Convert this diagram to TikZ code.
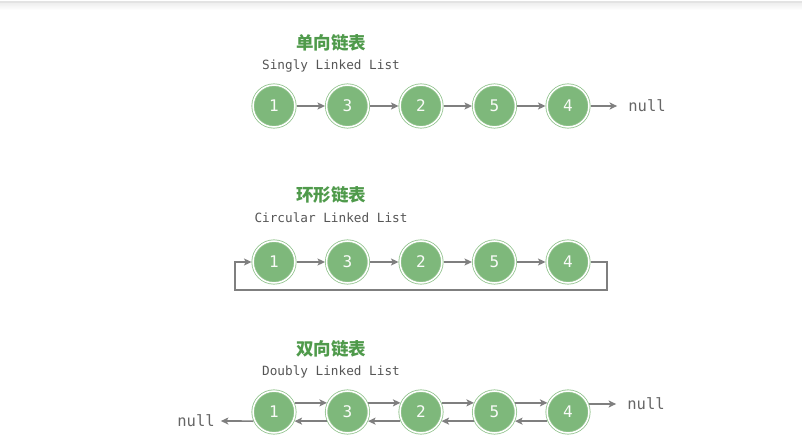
\documentclass[tikz,border=0pt]{standalone}
\usepackage{fontspec}
\setmonofont{DejaVu Sans Mono}
\newfontfamily\cjk{Noto Sans CJK SC}
\usepackage{xcolor}
\usepackage{tikz}
\usetikzlibrary{arrows.meta,positioning}
\definecolor{NodeFill}{HTML}{7EB87B}
\definecolor{NodeRing}{HTML}{93C48F}
\definecolor{TitleGreen}{HTML}{4F9A4B}
\definecolor{Ink}{HTML}{555555}
\definecolor{Wire}{HTML}{7F7F7F}
\tikzset{
  listnode/.style={circle,fill=NodeFill,draw=NodeRing,line width=0.8pt,double=white,double distance=1.5pt,minimum size=42pt,inner sep=0pt,outer sep=1.5pt,text=white!95!NodeFill,font=\ttfamily\fontsize{16}{16}\selectfont},
  listtitle/.style={text=TitleGreen,font=\cjk\bfseries\fontsize{17.5}{18}\selectfont},
  subtitle/.style={text=Ink,font=\ttfamily\fontsize{12.7}{13}\selectfont},
  nullnode/.style={text=Ink!90,font=\ttfamily\fontsize{15.5}{16}\selectfont,inner sep=0pt},
  nextlink/.style={-{Stealth[length=7.5pt,width=7pt,inset=1.8pt]},line width=1.7pt,draw=Wire},
  topband/.style={fill=gray!22}
}

\begin{document}
\begin{tikzpicture}[x=1pt,y=-1pt,node distance=28.5pt]
  \useasboundingbox (0,0) rectangle (802,446);
  \fill[topband] (0,1.5) rectangle (802,3.5);
  \shade[top color=gray!12,bottom color=white] (0,3.5) rectangle (802,10);

  % singly linked list
  \node[listtitle] (stitle) at (331,43) {单向链表};
  \node[subtitle] (ssub) at (331,66) {Singly Linked List};
  \node[listnode] (s1) at (274,106) {1};
  \node[listnode,right=of s1] (s3) {3};
  \node[listnode,right=of s3] (s2) {2};
  \node[listnode,right=of s2] (s5) {5};
  \node[listnode,right=of s5] (s4) {4};
  \node[nullnode] (snull) at (647,106) {null};
  \draw[nextlink] (s1) -- (s3);
  \draw[nextlink] (s3) -- (s2);
  \draw[nextlink] (s2) -- (s5);
  \draw[nextlink] (s5) -- (s4);
  \draw[nextlink] (s4.east) -- ([xshift=-11pt]snull.west);

  % circular linked list
  \node[listtitle] (ctitle) at (331,195) {环形链表};
  \node[subtitle] (csub) at (331,218) {Circular Linked List};
  \node[listnode] (c1) at (274,262) {1};
  \node[listnode,right=of c1] (c3) {3};
  \node[listnode,right=of c3] (c2) {2};
  \node[listnode,right=of c2] (c5) {5};
  \node[listnode,right=of c5] (c4) {4};
  \coordinate (loopR) at (607,290);
  \coordinate (loopL) at (235,290);
  \draw[nextlink] (c1) -- (c3);
  \draw[nextlink] (c3) -- (c2);
  \draw[nextlink] (c2) -- (c5);
  \draw[nextlink] (c5) -- (c4);
  \draw[nextlink] (c4.east) -| (loopR) -- (loopL) |- (c1.west);

  % doubly linked list
  \node[listtitle] (dtitle) at (331,349) {双向链表};
  \node[subtitle] (dsub) at (331,372) {Doubly Linked List};
  \node[listnode] (d1) at (274,412) {1};
  \node[listnode,right=of d1] (d3) {3};
  \node[listnode,right=of d3] (d2) {2};
  \node[listnode,right=of d2] (d5) {5};
  \node[listnode,right=of d5] (d4) {4};
  \node[nullnode] (dnullR) at (646,404) {null};
  \node[nullnode] (dnullL) at (196,421) {null};
  \draw[nextlink] (d1.24) -- (d3.156);
  \draw[nextlink] (d3.24) -- (d2.156);
  \draw[nextlink] (d2.24) -- (d5.156);
  \draw[nextlink] (d5.24) -- (d4.156);
  \draw[nextlink] (d3.204) -- (d1.336);
  \draw[nextlink] (d2.204) -- (d3.336);
  \draw[nextlink] (d5.204) -- (d2.336);
  \draw[nextlink] (d4.204) -- (d5.336);
  \draw[nextlink] (d4.21) -- ([xshift=-11pt]dnullR.west);
  \draw[nextlink] (d1.204) -- ([xshift=6pt]dnullL.east);
\end{tikzpicture}
\end{document}
